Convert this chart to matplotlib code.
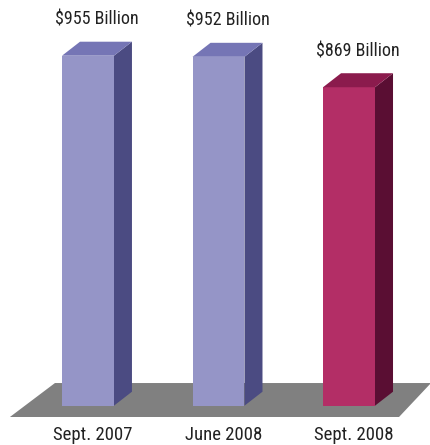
import matplotlib
matplotlib.use("Agg")
import matplotlib.pyplot as plt
from matplotlib.patches import Polygon

# data
periods = ["Sept. 2007", "June 2008", "Sept. 2008"]
values = [955, 952, 869]
value_labels = ["$955 Billion", "$952 Billion", "$869 Billion"]

# face colours: front, top, side
blue = ("#9595c7", "#7575b5", "#4b4b82")
red = ("#b32e66", "#8b1b4d", "#5a0e33")
bar_colors = [blue, blue, red]

plt.rcParams['font.family'] = ['Roboto Condensed', 'Archivo Narrow', 'Liberation Sans Narrow', 'Liberation Sans']

fig = plt.figure(figsize=(4.31, 4.45), dpi=100)
ax = fig.add_axes([0, 0, 1, 1])
ax.set_xlim(-0.674, 2.628)
ax.set_ylim(-107.2, 1107)
ax.axis("off")

w = 0.398     # front width
dx = 0.138    # depth offset in x
dy = 38.2     # depth offset in y (data units)

# floor
floor = Polygon([(-0.598, -30.8), (2.383, -30.8), (2.628, 61.9), (-0.253, 61.9)],
                closed=True, fc="#808080", ec="none", zorder=1)
ax.add_patch(floor)

for i, (v, cols) in enumerate(zip(values, bar_colors)):
    x0 = i - w / 2
    x1 = i + w / 2
    front = Polygon([(x0, 0), (x1, 0), (x1, v), (x0, v)], fc=cols[0], ec="none", zorder=3)
    top = Polygon([(x0, v), (x1, v), (x1 + dx, v + dy), (x0 + dx, v + dy)], fc=cols[1], ec="none", zorder=3)
    side = Polygon([(x1, 0), (x1 + dx, dy), (x1 + dx, v + dy), (x1, v)], fc=cols[2], ec="none", zorder=2)
    for p in (side, front, top):
        ax.add_patch(p)
    ax.annotate(value_labels[i], xy=(i + dx / 2, v + dy), xytext=(0, 22),
                textcoords="offset pixels", ha="center", va="center",
                fontsize=13, color="#222222")
    ax.annotate(periods[i], xy=(i, 0), xytext=(5, -29),
                textcoords="offset pixels", ha="center", va="center",
                fontsize=13.5, color="#222222")

fig.savefig("out.png", dpi=100)
